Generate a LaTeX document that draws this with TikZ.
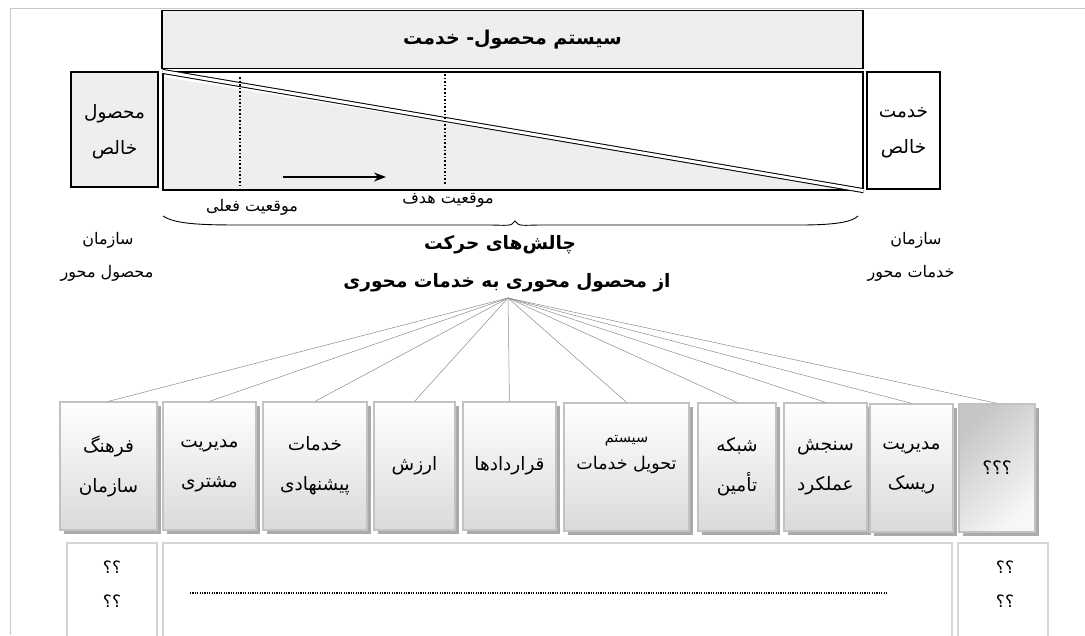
\documentclass[tikz,border=0pt]{standalone}
\usepackage{fontspec}
\usetikzlibrary{shadows,arrows.meta}
\TeXXeTstate=1
\newfontfamily\arabicfont[Script=Arabic]{DejaVu Sans}
\newcommand{\fa}[1]{\beginR #1\endR}
\definecolor{lightfill}{HTML}{EEEEEE}
\definecolor{framegray}{HTML}{C8C8C8}
\definecolor{boxedge}{HTML}{C2C2C2}
\definecolor{shadowgray}{HTML}{AAAAAA}
\definecolor{boxbottom}{HTML}{DADADA}
\definecolor{lowedge}{HTML}{D6D6D6}
\definecolor{fangray}{HTML}{8C8C8C}
\tikzset{
  txt/.style={font=\arabicfont\fontsize{16}{18}\selectfont, inner sep=0pt},
  btxt/.style={font=\arabicfont\bfseries\fontsize{18.5}{22}\selectfont, inner sep=0pt},
  darkbox/.style={draw=black, line width=1.3pt, inner sep=0pt},
  catbox/.style={draw=boxedge, line width=1.3pt, top color=white, bottom color=boxbottom,
    minimum height=128pt, inner sep=0pt, align=center,
    font=\arabicfont\fontsize{18.5}{40}\selectfont,
    drop shadow={shadow xshift=4pt, shadow yshift=-4pt, fill=shadowgray, opacity=1}},
  lowbox/.style={draw=lowedge, line width=1.5pt, inner sep=0pt, minimum height=110pt},
  fan/.style={draw=fangray, line width=0.5pt},
  qm/.style={font=\arabicfont\fontsize{17}{18}\selectfont, inner sep=0pt},
  pure/.style={inner sep=0pt, align=center, font=\arabicfont\fontsize{18.5}{36}\selectfont}
}
\begin{document}
\begin{tikzpicture}[x=1pt,y=-1pt]
\useasboundingbox (0,0) rectangle (1085,635);
\fill[white] (0,0) rectangle (1085,635);
% outer frame
\draw[framegray, line width=1pt] (10,635) -- (10,8) -- (1085,8);

% top system box
\node[darkbox, fill=lightfill, minimum width=701pt, minimum height=58pt] (sys) at (512.5,39.5)
  {\arabicfont\bfseries\fontsize{19}{22}\selectfont\fa{سیستم محصول- خدمت}};

% big spectrum box
\fill[lightfill] (163,77) -- (863,190) -- (163,190) -- cycle;
\node[darkbox, minimum width=700pt, minimum height=118pt] (big) at (513,131) {};
\draw[line width=1pt, double=white, double distance=3pt] (big.north west) -- (big.south east);

% pure product / pure service
\node[darkbox, fill=lightfill, minimum width=87pt, minimum height=115pt] (pp) at (114.5,129.5) {};
\node[pure] (ppt) at (114.5,132) {\fa{محصول}\\\fa{خالص}};
\node[darkbox, fill=white, minimum width=73pt, minimum height=117pt] (ps) at (903.5,130.5) {};
\node[pure] (pst) at (903.5,132.5) {\fa{خدمت}\\\fa{خالص}};

% current / target positions
\coordinate (cur1) at (240,77);
\coordinate (cur2) at (240,186);
\coordinate (tar1) at (445,74);
\coordinate (tar2) at (445,185);
\draw[dotted, line width=1.6pt] (cur1) -- (cur2);
\draw[dotted, line width=1.6pt] (tar1) -- (tar2);
\coordinate (ar1) at (283,177);
\coordinate (ar2) at (386,177);
\draw[-{Stealth[length=12pt,width=9pt]}, line width=1.4pt] (ar1) -- (ar2);
\node[txt] (curl) at (252,207) {\fa{موقعیت فعلی}};
\node[txt] (tarl) at (448,200) {\fa{موقعیت هدف}};

% brace
\draw[line width=0.9pt] (163,216) .. controls (175,224) and (200,225) .. (240,225)
  -- (490,225) .. controls (505,225) and (512,227) .. (515,221)
  .. controls (518,227) and (525,225) .. (540,225)
  -- (800,225) .. controls (835,225) and (852,222) .. (858,216);

% challenge titles
\node[btxt] (ch1) at (500,245) {\fa{چالش‌های حرکت}};
\node[btxt] (ch2) at (507,283) {\fa{از محصول محوری به خدمات محوری}};

% organisation labels
\node[txt] (lo1) at (108,240) {\fa{سازمان}};
\node[txt] (lo2) at (107,273) {\fa{محصول محور}};
\node[txt] (ro1) at (916,240) {\fa{سازمان}};
\node[txt] (ro2) at (911,273) {\fa{خدمات محور}};

% fan apex
\coordinate (apex) at (508,298);

% category boxes
\node[catbox, minimum width=97pt] (b1) at (108.5,466) {\fa{فرهنگ}\\\fa{سازمان}};
\node[catbox, minimum width=93pt] (b2) at (209.5,466) {\fa{مدیریت}\\\fa{مشتری}};
\node[catbox, minimum width=104pt] (b3) at (315,466) {\fa{خدمات}\\\fa{پیشنهادی}};
\node[catbox, minimum width=81pt] (b4) at (414.5,466) {\fa{ارزش}};
\node[catbox, minimum width=93pt] (b5) at (509.5,466) {\fa{قراردادها}};
\node[catbox, minimum width=125pt] (b6) at (626.5,467) {};
\node[catbox, minimum width=78pt] (b7) at (737,467) {\fa{شبکه}\\\fa{تأمین}};
\node[catbox, minimum width=83pt] (b8) at (825.5,467) {\fa{سنجش}\\\fa{عملکرد}};
\node[catbox, minimum width=83pt] (b9) at (911.5,468) {\fa{مدیریت}\\\fa{ریسک}};
\node[catbox, minimum width=76pt, top color=gray!45, bottom color=gray!6, shading angle=45]
  (b10) at (997,468) {\fa{؟؟؟}};
\node[inner sep=0pt, align=center, font=\arabicfont\fontsize{14.5}{27}\selectfont] (b6t) at (626.5,455)
  {\fa{سیستم}\\{\fontsize{17.5}{18}\selectfont\fa{تحویل خدمات}}};

\foreach \b in {b1,b2,b3,b4,b5,b6,b7,b8,b9,b10}
  \draw[fan] (apex) -- (\b.north);

% lower row
\node[lowbox, minimum width=90pt] (lq) at (112,598) {};
\node[lowbox, minimum width=789pt] (mid) at (557.5,598) {};
\node[lowbox, minimum width=90pt] (rq) at (1003,598) {};
\coordinate (d1) at (190,593);
\coordinate (d2) at (887,593);
\draw[line width=1.3pt, dash pattern=on 1.1pt off 1.3pt] (d1) -- (d2);
\node[qm] (lq1) at (112,567) {\fa{؟؟}};
\node[qm] (lq2) at (112,601) {\fa{؟؟}};
\node[qm] (rq1) at (1005,567) {\fa{؟؟}};
\node[qm] (rq2) at (1005,601) {\fa{؟؟}};
\end{tikzpicture}
\end{document}
